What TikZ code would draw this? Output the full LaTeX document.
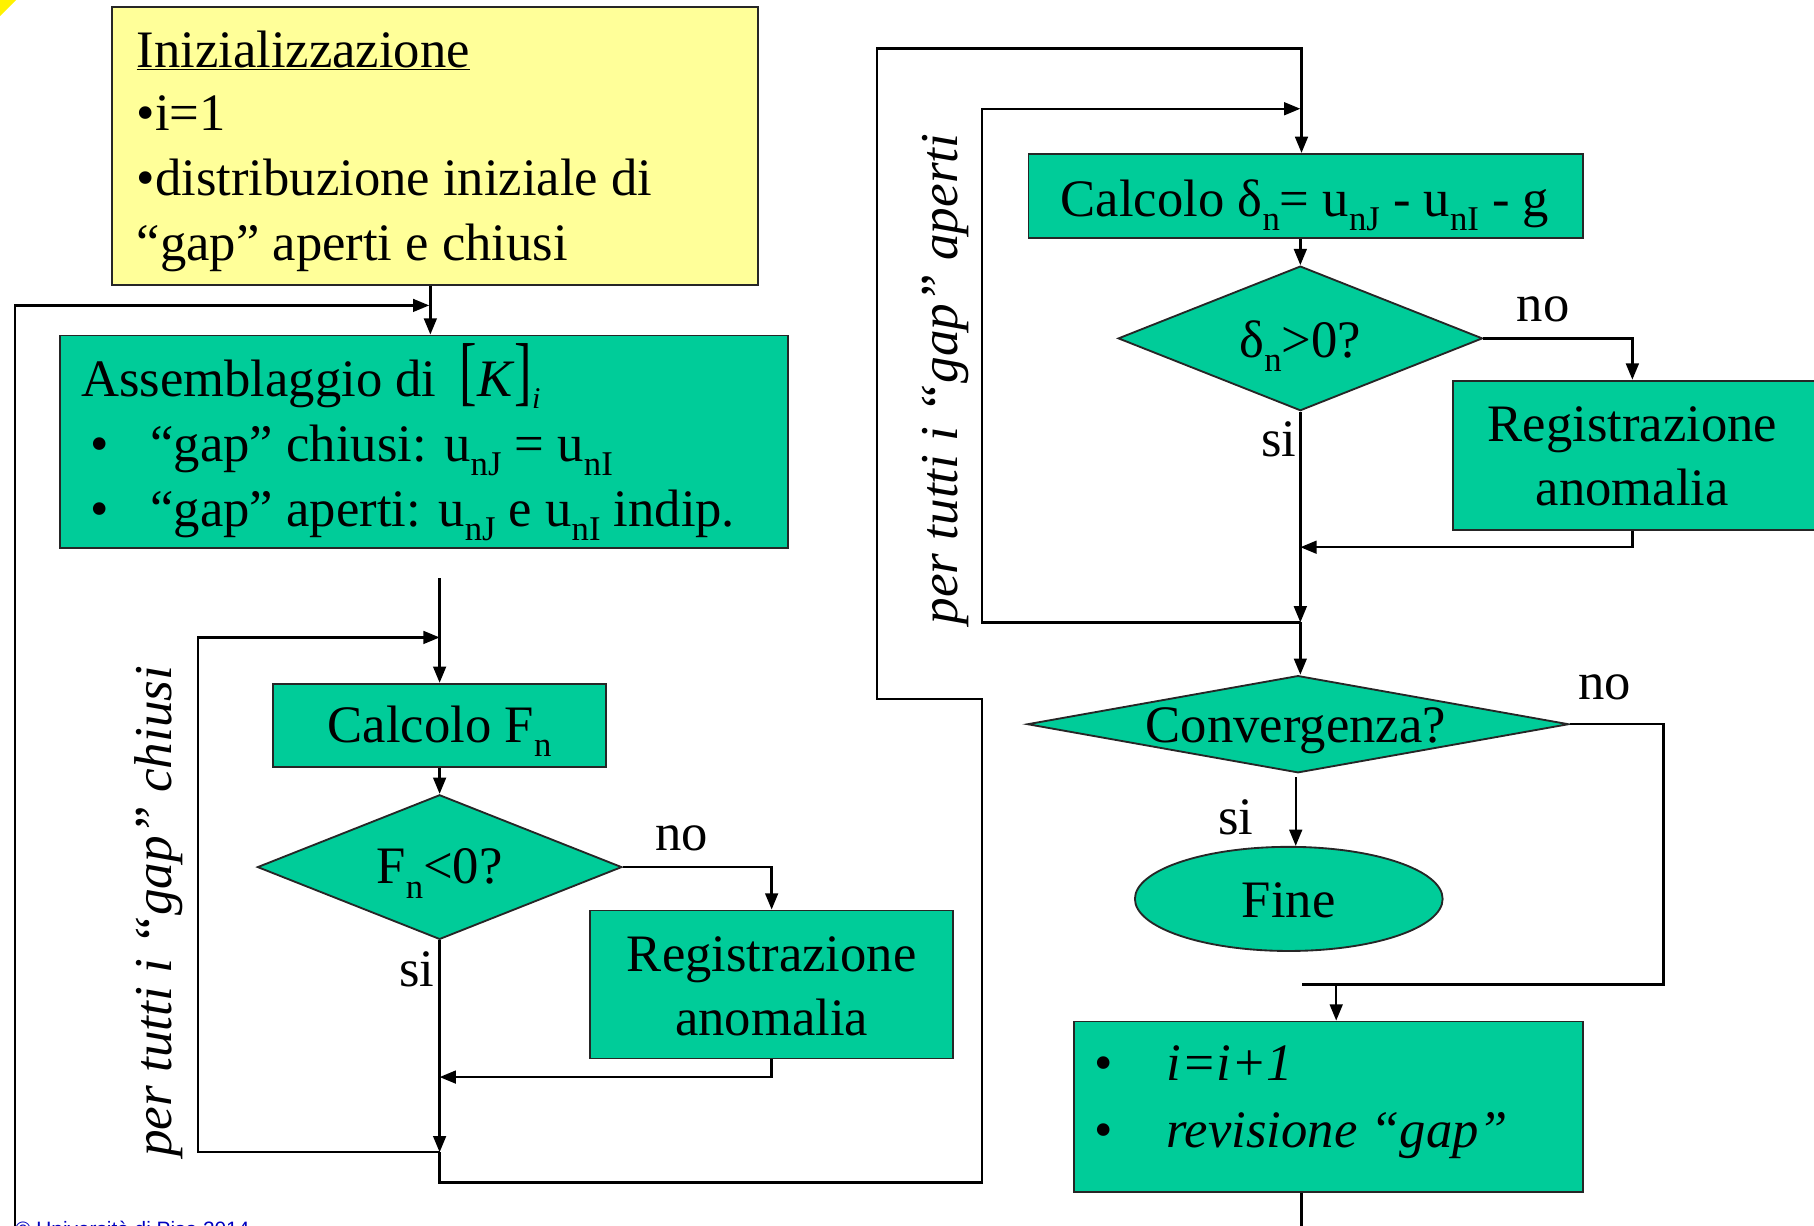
\documentclass[tikz,border=0pt]{standalone}
\usepackage{fontspec}
\usepackage{graphicx}
\setmainfont{Liberation Serif}
\newfontfamily\sansf{Liberation Sans}
\usetikzlibrary{shapes.geometric,arrows.meta}
\definecolor{boxgreen}{HTML}{00CC99}
\definecolor{boxyellow}{HTML}{FFFF99}
\newcommand{\sbx}[1]{\raisebox{-0.27em}{\fontsize{30}{30}\selectfont #1}}
\newcommand{\bigtxt}{\fontsize{45.5}{56}\selectfont}
\begin{document}
\begin{tikzpicture}[x=1pt,y=-1pt,
  box/.style={draw=black!85, line width=1.6pt, fill=boxgreen, inner sep=0pt},
  dec/.style={diamond, draw=black!85, line width=1.6pt, fill=boxgreen, inner sep=0pt},
  txt/.style={inner sep=0pt, font=\bigtxt, anchor=base},
  rot/.style={inner sep=0pt, font=\fontsize{46}{46}\selectfont\itshape, rotate=90, anchor=base west},
  con/.style={line width=2pt},
  arr/.style={con, -{Triangle[length=14pt,width=11pt]}}]
\useasboundingbox (0,0) rectangle (1568,1059);
\clip (0,0) rectangle (1568,1059);
\fill[yellow] (0,0) -- (14,0) -- (0,14) -- cycle;

% ---- initialisation
\node[box, fill=boxyellow, minimum width=558pt, minimum height=240pt] (init) at (376,126) {};
\node[txt, anchor=base west] (init1) at (118,58) {\underline{Inizializzazione}};
\node[txt, anchor=base west] (init2) at (118,113) {•i=1};
\node[txt, anchor=base west] (init3) at (118,169) {•distribuzione iniziale di};
\node[txt, anchor=base west] (init4) at (118,225) {“gap” aperti e chiusi};

% ---- assembly
\node[box, minimum width=629pt, minimum height=184pt] (asm) at (366.5,382) {};
\node[txt, anchor=base west] (asm1) at (70,343) {Assemblaggio di\hspace{20pt}\scalebox{1}[1.45]{[}\textit{K}\scalebox{1}[1.45]{]}\raisebox{-0.22em}{\fontsize{26}{26}\selectfont\itshape i}};
\node[txt, anchor=base west] (asm2) at (70,399) {\hspace{8pt}\makebox[52pt][l]{•}“gap” chiusi: u\sbx{nJ} = u\sbx{nI}};
\node[txt, anchor=base west] (asm3) at (70,455) {\hspace{8pt}\makebox[52pt][l]{•}“gap” aperti: u\sbx{nJ} e u\sbx{nI} indip.};

% ---- closed gaps loop
\node[box, minimum width=288pt, minimum height=72pt] (calcF) at (380,627) {};
\node[txt] (calcFt) at (380,642) {Calcolo F\sbx{n}};
\node[dec, minimum width=315pt, minimum height=125pt] (diamF) at (380,749.5) {};
\node[txt] (diamFt) at (380,764) {F\sbx{n}<0?};
\node[box, minimum width=314pt, minimum height=128pt] (reg1) at (667,851) {};
\node[txt] (reg1a) at (667,840) {Registrazione};
\node[txt] (reg1b) at (667,895) {anomalia};
\node[txt, anchor=base west] (no1) at (566,735) {no};
\node[txt, anchor=base west] (si1) at (345,853) {si};
\node[rot] (perC) at (148,1000) {per tutti i “gap” chiusi};

% ---- open gaps loop
\node[box, minimum width=479pt, minimum height=73pt] (calcD) at (1128.5,169.5) {};
\node[txt] (calcDt) at (1128,187) {Calcolo δ\sbx{n}= u\sbx{nJ} - u\sbx{nI} - g};
\node[dec, minimum width=315pt, minimum height=125pt] (diamD) at (1124,292.5) {};
\node[txt] (diamDt) at (1124,309) {δ\sbx{n}>0?};
\node[box, minimum width=330pt, minimum height=129pt, anchor=west] (reg2) at (1255,393.5) {};
\node[txt] (reg2a) at (1411,382) {Registrazione};
\node[txt] (reg2b) at (1411,437) {anomalia};
\node[txt, anchor=base west] (no2) at (1311,278) {no};
\node[txt, anchor=base west] (si2) at (1090,395) {si};
\node[rot] (perA) at (828,540) {per tutti i “gap” aperti};

% ---- convergence
\node[dec, minimum width=468pt, minimum height=84pt] (conv) at (1122,626) {};
\node[txt] (convt) at (1120,642) {Convergenza?};
\node[txt, anchor=base west] (no3) at (1364,605) {no};
\node[txt, anchor=base west] (si3) at (1053,721) {si};
\node[ellipse, draw=black!85, line width=1.6pt, fill=boxgreen, minimum width=266pt, minimum height=90pt, inner sep=0pt] (fine) at (1114,777) {};
\node[txt] (finet) at (1114,793) {Fine};
\node[box, minimum width=440pt, minimum height=147pt] (rev) at (1148,956.5) {};
\node[txt, anchor=base west] (rev1) at (946,934) {\makebox[62pt][l]{•}\textit{i=i+1}};
\node[txt, anchor=base west] (rev2) at (946,992) {\makebox[62pt][l]{•}\textit{revisione “gap”}};

\node[inner sep=0pt, anchor=base west, font=\sansf\fontsize{18}{18}\selectfont, text=blue!75!black] (copy) at (13,1069) {© Università di Pisa 2014};

% ---- helper coordinates
\coordinate (jA) at (380,500);
\coordinate (jT) at (380,551);
\coordinate (jL) at (380,996);
\coordinate (m1) at (380,931);
\coordinate (jR) at (1124,538);
\coordinate (jRT) at (1124,94);
\coordinate (m2) at (1124,473);
\coordinate (jC) at (1125,851);
\coordinate (cs) at (1120,672);

% ---- connectors
\draw[arr] (372,0 |- init.south) -- (372,0 |- asm.north);
\draw[arr] (1125,0 |- rev.south) -- (1125,1090) -- (13,1090) -- (13,264) -- (371,264);
\draw[arr] (jA) -- (calcF.north);
\draw[arr] (calcF.south) -- (diamF.north);
\draw[arr] (diamF.east) -| (reg1.north);
\draw[arr] (reg1.south) |- (m1);
\draw[arr] (diamF.south) -- (jL);
\draw[arr] (jL) -- (171,996) -- (171,551) -- (jT);
\draw[arr] (jL) -- (380,1022) -- (849,1022) -- (849,604) -- (758,604) -- (758,42) -- (1125,42) -- (1125,0 |- calcD.north);
\draw[arr] (1124,0 |- calcD.south) -- (diamD.north);
\draw[arr] (diamD.east) -| (1411,0 |- reg2.north);
\draw[arr] (1411,0 |- reg2.south) |- (m2);
\draw[arr] (diamD.south) -- (jR);
\draw[arr] (jR) -- (849,538) -- (849,94) -- (jRT);
\draw[arr] (jR) -- (1124,0 |- conv.north);
\draw[con] (conv.east) -- (1438,0 |- conv.east) |- (jC);
\draw[arr] (1155,851) -- (1155,0 |- rev.north);
\draw[arr] (cs) -- (1120,0 |- fine.north);
\end{tikzpicture}
\end{document}
